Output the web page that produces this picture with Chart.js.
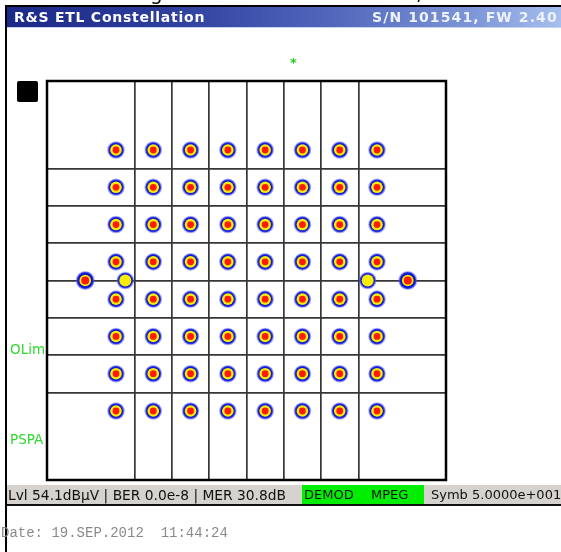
<!DOCTYPE html>
<html>
<head>
<meta charset="utf-8">
<script src="https://cdn.jsdelivr.net/npm/chart.js@4/dist/chart.umd.min.js"></script>
<style>
  body { margin: 0; background: #fff; }
  #wrap { position: relative; width: 561px; height: 552px; overflow: hidden; background: #fff; }
  #chart { position: absolute; left: 0; top: 0; }
  .abs { position: absolute; white-space: nowrap; }
  #frame { left: 5px; top: 5px; width: 600px; height: 600px; border-left: 2px solid #000; border-top: 2px solid #000; }
  #titlebar { left: 7px; top: 7px; width: 554px; height: 20px;
    background: linear-gradient(to right, #1b2988 0%, #2e3f9e 30%, #5369bd 60%, #7f98d8 85%, #a6bff0 100%);
    border-bottom: 1px solid #c6d2ee; }
  #title { left: 14px; top: 8px; color: #fff; font: bold 14px "DejaVu Sans", sans-serif; letter-spacing: 0.75px; line-height: 18px; }
  #serial { left: 372px; top: 8px; color: #eef2fb; font: bold 14px "DejaVu Sans", sans-serif; letter-spacing: 1.1px; line-height: 18px; }
  .frag { top: -17px; font: 20px "DejaVu Sans", sans-serif; line-height: 20px; color: #000; }
  #star { left: 290px; top: 55px; color: #22cc22; font: bold 13px "DejaVu Sans", sans-serif; }
  #marker { left: 17px; top: 81px; width: 21px; height: 21px; background: #000; border-radius: 2px; }
  .lim { left: 10px; color: #2fd82f; font: 13.5px "DejaVu Sans", sans-serif; line-height: 14px; }
  #status { left: 7px; top: 485px; width: 554px; height: 19px; background: #d6d3ce; border-bottom: 2px solid #111; }
  #demod { left: 302px; top: 485px; width: 122px; height: 19px; background: #00ee00; }
  .st { top: 486px; font: 13.8px "DejaVu Sans", sans-serif; line-height: 18px; color: #111; }
  #date { left: 1px; top: 525px; font: 14px "Liberation Mono", monospace; color: #8a8a8a; line-height: 16px; }
</style>
</head>
<body>
<div id="wrap">
  <canvas id="chart" width="561" height="552"></canvas>
  <div class="abs" id="frame"></div>
  <span class="abs frag" style="left:150px">g</span>
  <span class="abs frag" style="left:416px">,</span>
  <div class="abs" id="titlebar"></div>
  <span class="abs" id="title">R&amp;S ETL Constellation</span>
  <span class="abs" id="serial">S/N 101541, FW 2.40</span>
  <span class="abs" id="star">*</span>
  <div class="abs" id="marker"></div>
  <span class="abs lim" style="top:342px">OLim</span>
  <span class="abs lim" style="top:432px">PSPA</span>
  <div class="abs" id="status"></div>
  <div class="abs" id="demod"></div>
  <span class="abs st" style="left:8px">Lvl 54.1dBµV | BER 0.0e-8 | MER 30.8dB</span>
  <span class="abs st" style="left:304px; font-size:13px">DEMOD</span>
  <span class="abs st" style="left:371px; font-size:13px">MPEG</span>
  <span class="abs st" style="left:431px; font-size:13px">Symb 5.0000e+001</span>
  <span class="abs" id="date">Date: 19.SEP.2012&nbsp;&nbsp;11:44:24</span>
</div>
<script>
// 64-QAM levels (I and Q)
const levels = [-7, -5, -3, -1, 1, 3, 5, 7];
// extra clusters seen on the Q=0 line
const extraI = [-8.65, -6.5, 6.5, 8.65];
const extraQ = [0, 0, 0, 0];
const extraHasCore = [true, false, false, true];
// grid lines
const gridTicks = [-6, -4, -2, 0, 2, 4, 6];
const axisMin = -10.7;
const axisMax = 10.7;

const qamPoints = [];
levels.forEach(function (q) {
    levels.forEach(function (i) {
        qamPoints.push({ x: i, y: q });
    });
});
const extraPoints = extraI.map((v, k) => ({ x: v, y: extraQ[k] }));
const allPoints = qamPoints.concat(extraPoints);
const corePoints = qamPoints.concat(extraPoints.filter((p, k) => extraHasCore[k]));

const blueRadius = allPoints.map((p, k) => (k >= qamPoints.length && extraHasCore[k - qamPoints.length]) ? 8.5 : 7.8);
const yellowRadius = allPoints.map((p, k) => (k >= qamPoints.length && !extraHasCore[k - qamPoints.length]) ? 6 : 5.8);
const redRadius = corePoints.map((p, k) => k >= qamPoints.length ? 4 : 3.4);

const framePlugin = {
    id: 'frame',
    afterDraw(chart) {
        const a = chart.chartArea;
        const ctx = chart.ctx;
        ctx.save();
        ctx.strokeStyle = '#000';
        ctx.lineWidth = 2.5;
        ctx.strokeRect(a.left, a.top, a.right - a.left, a.bottom - a.top);
        ctx.restore();
    }
};

function axis() {
    return {
        type: 'linear',
        min: axisMin,
        max: axisMax,
        afterBuildTicks: function (scale) {
            scale.ticks = gridTicks.map(v => ({ value: v }));
        },
        ticks: { display: false },
        grid: { color: '#363636', lineWidth: 1.7, drawTicks: false },
        border: { display: false }
    };
}

const ctx = document.getElementById('chart').getContext('2d');
new Chart(ctx, {
    type: 'scatter',
    data: {
        datasets: [{
            label: 'noise',
            order: 3,
            data: allPoints,
            pointRadius: blueRadius,
            backgroundColor: '#0c12c8',
            borderColor: 'rgba(80, 90, 255, 0.5)',
            borderWidth: 2
        }, {
            label: 'mid',
            order: 2,
            data: allPoints,
            pointRadius: yellowRadius,
            backgroundColor: '#f8ee00',
            borderColor: '#f8ee00',
            borderWidth: 0
        }, {
            label: 'core',
            order: 1,
            data: corePoints,
            pointRadius: redRadius,
            backgroundColor: '#ff1a0a',
            borderColor: '#ff1a0a',
            borderWidth: 0
        }]
    },
    options: {
        responsive: false,
        animation: false,
        events: [],
        layout: { padding: { left: 47, top: 81, right: 115, bottom: 72 } },
        plugins: {
            legend: { display: false },
            tooltip: { enabled: false }
        },
        scales: {
            x: axis(),
            y: axis()
        }
    },
    plugins: [framePlugin]
});
</script>
</body>
</html>
